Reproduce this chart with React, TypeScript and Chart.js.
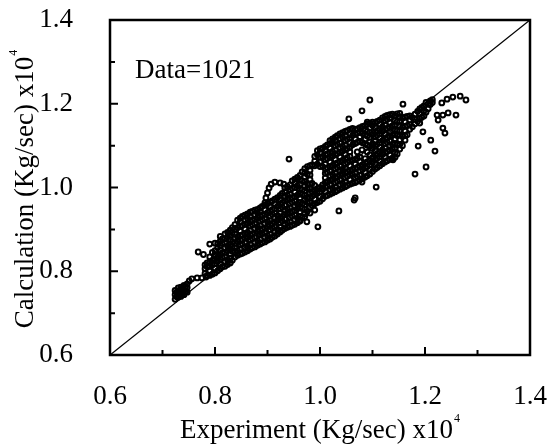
import { useEffect, useRef } from 'react';
import { Chart, registerables } from 'chart.js';

Chart.register(...registerables);

const axisMin = 0.6;
const axisMax = 1.4;
const tickStep = 0.1;
const xTitle = 'Experiment (Kg/sec) x10';
const yTitle = 'Calculation (Kg/sec) x10';
const titleExponent = '4';
const dataLabel = 'Data=1021';
const diagonal: [number, number][] = [[0.6, 0.6], [1.4, 1.4]];

// [experiment, calculation] pairs
const lowerCluster: [number, number][] = [
  [0.724, 0.733], [0.724, 0.744], [0.724, 0.754],
  [0.727, 0.739], [0.727, 0.750],
  [0.730, 0.738], [0.730, 0.749], [0.730, 0.760],
  [0.733, 0.744], [0.733, 0.755],
  [0.735, 0.740], [0.735, 0.751], [0.735, 0.762],
  [0.738, 0.748], [0.738, 0.759],
  [0.741, 0.744], [0.741, 0.755], [0.741, 0.766],
  [0.744, 0.752], [0.744, 0.763],
  [0.747, 0.750], [0.747, 0.761], [0.747, 0.770],
  [0.751, 0.777],
  [0.756, 0.782], [0.766, 0.784], [0.775, 0.784], [0.783, 0.786],
  [0.768, 0.846], [0.778, 0.840],
  [0.790, 0.865], [0.800, 0.867],
  [0.781, 0.795], [0.781, 0.806], [0.781, 0.815],
  [0.785, 0.790], [0.785, 0.811], [0.785, 0.820],
  [0.790, 0.790], [0.790, 0.801], [0.790, 0.812], [0.790, 0.823], [0.790, 0.834],
  [0.795, 0.793], [0.795, 0.815], [0.795, 0.826], [0.795, 0.845],
  [0.800, 0.796], [0.800, 0.807], [0.800, 0.818], [0.800, 0.829], [0.800, 0.840], [0.800, 0.849],
  [0.805, 0.801], [0.805, 0.823], [0.805, 0.834], [0.805, 0.856], [0.805, 0.866],
];

const midBand: [number, number][] = [
  [0.810, 0.806], [0.810, 0.817], [0.810, 0.828], [0.810, 0.839], [0.810, 0.850], [0.810, 0.861], [0.810, 0.872], [0.810, 0.883],
  [0.814, 0.811], [0.814, 0.833], [0.814, 0.844], [0.814, 0.866], [0.814, 0.877],
  [0.819, 0.812], [0.819, 0.823], [0.819, 0.834], [0.819, 0.845], [0.819, 0.856], [0.819, 0.867], [0.819, 0.878], [0.819, 0.889],
  [0.824, 0.816], [0.824, 0.827], [0.824, 0.849], [0.824, 0.860], [0.824, 0.882], [0.824, 0.893],
  [0.829, 0.820], [0.829, 0.831], [0.829, 0.842], [0.829, 0.853], [0.829, 0.864], [0.829, 0.875], [0.829, 0.886], [0.829, 0.898],
  [0.833, 0.826], [0.833, 0.848], [0.833, 0.859], [0.833, 0.870], [0.833, 0.892], [0.833, 0.904],
  [0.838, 0.834], [0.838, 0.845], [0.838, 0.856], [0.838, 0.867], [0.838, 0.878], [0.838, 0.889], [0.838, 0.900], [0.838, 0.911],
  [0.843, 0.838], [0.843, 0.849], [0.843, 0.871], [0.843, 0.882], [0.843, 0.904], [0.843, 0.922],
  [0.848, 0.841], [0.848, 0.852], [0.848, 0.863], [0.848, 0.874], [0.848, 0.885], [0.848, 0.896], [0.848, 0.907], [0.848, 0.918], [0.848, 0.927],
  [0.852, 0.843], [0.852, 0.865], [0.852, 0.876], [0.852, 0.887], [0.852, 0.909], [0.852, 0.931],
  [0.857, 0.846], [0.857, 0.857], [0.857, 0.868], [0.857, 0.879], [0.857, 0.890], [0.857, 0.901], [0.857, 0.912], [0.857, 0.923], [0.857, 0.934],
  [0.862, 0.849], [0.862, 0.860], [0.862, 0.882], [0.862, 0.893], [0.862, 0.915], [0.862, 0.926], [0.862, 0.937],
  [0.867, 0.853], [0.867, 0.864], [0.867, 0.875], [0.867, 0.886], [0.867, 0.897], [0.867, 0.908], [0.867, 0.919], [0.867, 0.930], [0.867, 0.941],
  [0.871, 0.856], [0.871, 0.878], [0.871, 0.889], [0.871, 0.911], [0.871, 0.922], [0.871, 0.943],
  [0.876, 0.858], [0.876, 0.869], [0.876, 0.880], [0.876, 0.891], [0.876, 0.902], [0.876, 0.913], [0.876, 0.924], [0.876, 0.935], [0.876, 0.946],
  [0.881, 0.862], [0.881, 0.873], [0.881, 0.895], [0.881, 0.906], [0.881, 0.928], [0.881, 0.939], [0.881, 0.948],
  [0.886, 0.865], [0.886, 0.876], [0.886, 0.887], [0.886, 0.898], [0.886, 0.909], [0.886, 0.920], [0.886, 0.931], [0.886, 0.942], [0.886, 0.951],
  [0.890, 0.868], [0.890, 0.890], [0.890, 0.901], [0.890, 0.923], [0.890, 0.934], [0.890, 0.955],
  [0.895, 0.870], [0.895, 0.881], [0.895, 0.892], [0.895, 0.903], [0.895, 0.914], [0.895, 0.925], [0.895, 0.936], [0.895, 0.947], [0.895, 0.958],
  [0.900, 0.874], [0.900, 0.885], [0.900, 0.907], [0.900, 0.918], [0.900, 0.940], [0.900, 0.961],
  [0.905, 0.877], [0.905, 0.888], [0.905, 0.899], [0.905, 0.910], [0.905, 0.921], [0.905, 0.932], [0.905, 0.943], [0.905, 0.954], [0.905, 0.965],
  [0.909, 0.881], [0.909, 0.903], [0.909, 0.914], [0.909, 0.936], [0.909, 0.947], [0.909, 0.968],
  [0.914, 0.884], [0.914, 0.895], [0.914, 0.906], [0.914, 0.917], [0.914, 0.928], [0.914, 0.939], [0.914, 0.950], [0.914, 0.961], [0.914, 0.972],
  [0.919, 0.889], [0.919, 0.900], [0.919, 0.922], [0.919, 0.933], [0.919, 0.955], [0.919, 0.976],
  [0.924, 0.894], [0.924, 0.905], [0.924, 0.916], [0.924, 0.927], [0.924, 0.938], [0.924, 0.949], [0.924, 0.960], [0.924, 0.971], [0.924, 0.981],
  [0.928, 0.898], [0.928, 0.920], [0.928, 0.931], [0.928, 0.953], [0.928, 0.964], [0.928, 0.986],
  [0.933, 0.902], [0.933, 0.913], [0.933, 0.924], [0.933, 0.935], [0.933, 0.946], [0.933, 0.957], [0.933, 0.968], [0.933, 0.979], [0.933, 0.990], [0.933, 0.999],
  [0.938, 0.905], [0.938, 0.916], [0.938, 0.938], [0.938, 0.949], [0.938, 0.971], [0.938, 0.982], [0.938, 1.002],
  [0.943, 0.907], [0.943, 0.918], [0.943, 0.929], [0.943, 0.940], [0.943, 0.951], [0.943, 0.962], [0.943, 0.973], [0.943, 0.984], [0.943, 0.995], [0.943, 1.006],
  [0.947, 0.910], [0.947, 0.932], [0.947, 0.943], [0.947, 0.965], [0.947, 0.976], [0.947, 0.998], [0.947, 1.016],
  [0.952, 0.912], [0.952, 0.923], [0.952, 0.934], [0.952, 0.945], [0.952, 0.956], [0.952, 0.967], [0.952, 0.978], [0.952, 0.989], [0.952, 1.000], [0.952, 1.011], [0.952, 1.020],
  [0.957, 0.916], [0.957, 0.927], [0.957, 0.949], [0.957, 0.960], [0.957, 0.982], [0.957, 1.004], [0.957, 1.024],
  [0.962, 0.920], [0.962, 0.931], [0.962, 0.942], [0.962, 0.953], [0.962, 0.964], [0.962, 0.975], [0.962, 0.986], [0.962, 0.997], [0.962, 1.008], [0.962, 1.019], [0.962, 1.029],
  [0.966, 0.928], [0.966, 0.950], [0.966, 0.961], [0.966, 0.983], [0.966, 0.994], [0.966, 1.016], [0.966, 1.037],
];

const upperBand: [number, number][] = [
  [0.971, 0.937], [0.971, 0.948], [0.971, 0.959], [0.971, 0.970], [0.971, 0.981], [0.971, 0.992], [0.971, 1.003], [0.971, 1.014], [0.971, 1.025], [0.971, 1.036], [0.971, 1.045],
  [0.976, 0.943], [0.976, 0.965], [0.976, 0.976], [0.976, 0.998], [0.976, 1.009], [0.976, 1.031], [0.976, 1.050],
  [0.981, 0.953], [0.981, 0.964], [0.981, 0.975], [0.981, 0.986], [0.981, 0.997], [0.981, 1.008], [0.981, 1.019], [0.981, 1.030], [0.981, 1.041], [0.981, 1.052],
  [0.985, 0.957], [0.985, 0.979], [0.985, 0.990], [0.985, 1.010], [0.985, 1.054],
  [0.990, 0.961], [0.990, 0.972], [0.990, 0.983], [0.990, 0.994], [0.990, 1.005], [0.990, 1.052], [0.990, 1.063], [0.990, 1.074],
  [0.995, 0.964], [0.995, 0.986], [0.995, 0.997], [0.995, 1.056], [0.995, 1.078], [0.995, 1.088],
  [1.000, 0.967], [1.000, 0.978], [1.000, 0.989], [1.000, 1.000], [1.000, 1.050], [1.000, 1.061], [1.000, 1.072], [1.000, 1.083], [1.000, 1.092],
  [1.005, 0.973], [1.005, 0.995], [1.005, 1.006], [1.005, 1.050], [1.005, 1.072], [1.005, 1.094],
  [1.010, 0.979], [1.010, 0.990], [1.010, 1.001], [1.010, 1.012], [1.010, 1.023], [1.010, 1.034], [1.010, 1.045], [1.010, 1.056], [1.010, 1.067], [1.010, 1.078], [1.010, 1.089], [1.010, 1.098],
  [1.014, 0.981], [1.014, 1.003], [1.014, 1.014], [1.014, 1.036], [1.014, 1.047], [1.014, 1.069], [1.014, 1.080], [1.014, 1.102],
  [1.019, 0.984], [1.019, 0.995], [1.019, 1.006], [1.019, 1.017], [1.019, 1.028], [1.019, 1.039], [1.019, 1.050], [1.019, 1.061], [1.019, 1.072], [1.019, 1.083], [1.019, 1.094], [1.019, 1.105], [1.019, 1.112],
  [1.024, 0.987], [1.024, 0.998], [1.024, 1.020], [1.024, 1.031], [1.024, 1.053], [1.024, 1.075], [1.024, 1.086], [1.024, 1.108], [1.024, 1.116],
  [1.029, 0.990], [1.029, 1.001], [1.029, 1.012], [1.029, 1.023], [1.029, 1.034], [1.029, 1.045], [1.029, 1.056], [1.029, 1.067], [1.029, 1.078], [1.029, 1.089], [1.029, 1.100], [1.029, 1.111], [1.029, 1.120],
  [1.033, 0.993], [1.033, 1.015], [1.033, 1.026], [1.033, 1.048], [1.033, 1.059], [1.033, 1.081], [1.033, 1.103], [1.033, 1.124],
  [1.038, 0.996], [1.038, 1.007], [1.038, 1.018], [1.038, 1.029], [1.038, 1.040], [1.038, 1.051], [1.038, 1.062], [1.038, 1.073], [1.038, 1.084], [1.038, 1.095], [1.038, 1.106], [1.038, 1.117], [1.038, 1.128],
  [1.043, 0.999], [1.043, 1.010], [1.043, 1.032], [1.043, 1.043], [1.043, 1.065], [1.043, 1.087], [1.043, 1.098], [1.043, 1.120], [1.043, 1.131],
  [1.048, 1.002], [1.048, 1.013], [1.048, 1.024], [1.048, 1.035], [1.048, 1.046], [1.048, 1.057], [1.048, 1.068], [1.048, 1.079], [1.048, 1.090], [1.048, 1.101], [1.048, 1.112], [1.048, 1.123], [1.048, 1.134],
  [1.052, 1.005], [1.052, 1.027], [1.052, 1.038], [1.052, 1.060], [1.052, 1.071], [1.052, 1.093], [1.052, 1.115], [1.052, 1.136],
  [1.057, 1.008], [1.057, 1.019], [1.057, 1.030], [1.057, 1.041], [1.057, 1.052], [1.057, 1.063], [1.057, 1.074], [1.057, 1.085], [1.057, 1.096], [1.057, 1.107], [1.057, 1.118], [1.057, 1.129], [1.057, 1.139],
  [1.062, 1.010], [1.062, 1.032], [1.062, 1.043], [1.062, 1.065], [1.062, 1.102], [1.062, 1.124], [1.062, 1.141],
  [1.067, 1.012], [1.067, 1.023], [1.067, 1.034], [1.067, 1.045], [1.067, 1.056], [1.067, 1.067], [1.067, 1.105], [1.067, 1.116], [1.067, 1.127], [1.067, 1.138],
  [1.071, 1.015], [1.071, 1.026], [1.071, 1.048], [1.071, 1.070], [1.071, 1.108], [1.071, 1.130], [1.071, 1.140],
  [1.076, 1.018], [1.076, 1.029], [1.076, 1.040], [1.076, 1.051], [1.076, 1.062], [1.076, 1.073], [1.076, 1.110], [1.076, 1.121], [1.076, 1.132], [1.076, 1.143],
  [1.081, 1.021], [1.081, 1.043], [1.081, 1.054], [1.081, 1.107], [1.081, 1.129], [1.081, 1.146],
  [1.086, 1.025], [1.086, 1.036], [1.086, 1.047], [1.086, 1.058], [1.086, 1.069], [1.086, 1.104], [1.086, 1.115], [1.086, 1.126], [1.086, 1.137], [1.086, 1.148],
  [1.090, 1.028], [1.090, 1.050], [1.090, 1.061], [1.090, 1.101], [1.090, 1.123], [1.090, 1.134], [1.090, 1.151],
  [1.095, 1.032], [1.095, 1.043], [1.095, 1.054], [1.095, 1.065], [1.095, 1.098], [1.095, 1.109], [1.095, 1.120], [1.095, 1.131], [1.095, 1.142], [1.095, 1.153],
  [1.100, 1.038], [1.100, 1.060], [1.100, 1.071], [1.100, 1.093], [1.100, 1.104], [1.100, 1.126], [1.100, 1.148], [1.100, 1.156],
  [1.105, 1.044], [1.105, 1.055], [1.105, 1.066], [1.105, 1.077], [1.105, 1.088], [1.105, 1.099], [1.105, 1.110], [1.105, 1.121], [1.105, 1.132], [1.105, 1.143], [1.105, 1.154],
  [1.109, 1.048], [1.109, 1.070], [1.109, 1.081], [1.109, 1.103], [1.109, 1.125], [1.109, 1.136], [1.109, 1.158],
  [1.114, 1.052], [1.114, 1.063], [1.114, 1.074], [1.114, 1.085], [1.114, 1.096], [1.114, 1.107], [1.114, 1.118], [1.114, 1.129], [1.114, 1.140], [1.114, 1.151], [1.114, 1.161],
  [1.119, 1.057], [1.119, 1.079], [1.119, 1.090], [1.119, 1.112], [1.119, 1.134], [1.119, 1.145], [1.119, 1.166],
  [1.124, 1.061], [1.124, 1.072], [1.124, 1.083], [1.124, 1.094], [1.124, 1.105], [1.124, 1.116], [1.124, 1.127], [1.124, 1.138], [1.124, 1.149], [1.124, 1.160], [1.124, 1.170],
  [1.128, 1.064], [1.128, 1.086], [1.128, 1.108], [1.128, 1.119], [1.128, 1.141], [1.128, 1.163], [1.128, 1.172],
  [1.133, 1.067], [1.133, 1.078], [1.133, 1.089], [1.133, 1.100], [1.133, 1.111], [1.133, 1.122], [1.133, 1.133], [1.133, 1.144], [1.133, 1.155], [1.133, 1.166], [1.133, 1.174],
  [1.138, 1.070], [1.138, 1.092], [1.138, 1.103], [1.138, 1.125], [1.138, 1.147], [1.138, 1.175],
  [1.143, 1.072], [1.143, 1.083], [1.143, 1.094], [1.143, 1.105], [1.143, 1.116], [1.143, 1.127], [1.143, 1.138], [1.143, 1.149], [1.143, 1.160], [1.143, 1.171],
  [1.147, 1.080], [1.147, 1.102], [1.147, 1.124], [1.147, 1.135], [1.147, 1.157], [1.147, 1.176],
  [1.152, 1.092], [1.152, 1.103], [1.152, 1.114], [1.152, 1.125], [1.152, 1.136], [1.152, 1.147], [1.152, 1.158], [1.152, 1.169], [1.152, 1.177],
  [1.157, 1.100], [1.157, 1.122], [1.157, 1.144], [1.157, 1.166],
  [1.162, 1.113], [1.162, 1.124], [1.162, 1.135], [1.162, 1.146], [1.162, 1.157], [1.162, 1.168],
  [1.166, 1.126], [1.166, 1.148], [1.166, 1.170],
  [1.171, 1.139], [1.171, 1.150], [1.171, 1.161], [1.171, 1.171],
  [1.176, 1.145], [1.176, 1.167],
  [1.181, 1.152], [1.181, 1.163], [1.181, 1.175],
  [1.186, 1.158], [1.186, 1.182],
  [1.190, 1.164], [1.190, 1.176], [1.190, 1.188],
  [1.194, 1.168], [1.194, 1.191],
  [1.198, 1.171], [1.198, 1.183], [1.198, 1.195],
  [1.202, 1.180], [1.202, 1.203],
  [1.206, 1.188], [1.206, 1.200],
  [1.210, 1.198], [1.210, 1.207],
  [1.214, 1.203], [1.214, 1.210],
];

const hollowChains: [number, number][] = [
  [0.895, 0.963], [0.897, 0.975], [0.900, 0.987], [0.903, 0.999], [0.907, 1.008], [0.914, 1.013], [0.924, 1.011], [0.931, 1.008],
  [0.962, 0.922], [0.971, 0.930], [0.981, 0.939], [0.990, 0.946], [0.996, 0.906], [0.975, 0.918],
  [1.071, 1.085], [1.080, 1.090], [1.090, 1.085], [1.095, 1.078],
];

const scatteredPoints: [number, number][] = [
  [0.941, 1.068], [1.036, 0.944], [1.055, 1.164], [1.080, 1.183], [1.095, 1.209], [1.158, 1.199], [1.090, 1.156],
  [1.232, 1.202], [1.242, 1.211], [1.253, 1.216], [1.267, 1.218], [1.278, 1.209],
  [1.223, 1.173], [1.234, 1.173], [1.244, 1.178], [1.259, 1.173], [1.225, 1.161],
  [1.234, 1.142], [1.238, 1.130],
  [1.211, 1.113], [1.219, 1.087], [1.187, 1.099],
  [1.202, 1.049], [1.181, 1.032],
  [1.107, 1.001],
  [1.065, 0.970], [1.067, 0.975],
  [1.080, 1.013],
  [1.139, 1.066],
  [1.190, 1.154], [1.196, 1.133],
];

const FONT = '"Liberation Serif", "Times New Roman", serif';

const isMajor = (v: number) => Math.round(v * 10) % 2 === 0;
const tickLabel = (v: number | string) => {
  const n = Math.round(Number(v) * 10);
  return n % 2 === 0 ? (n / 10).toFixed(1) : '';
};

export default function App() {
  const ref = useRef<HTMLCanvasElement>(null);

  useEffect(() => {
    if (!ref.current) return;
    const allPoints = [...lowerCluster, ...midBand, ...upperBand, ...hollowChains, ...scatteredPoints];

    const drawTitle = (ctx: CanvasRenderingContext2D, main: string) => {
      ctx.font = `27px ${FONT}`;
      const w = ctx.measureText(main).width;
      ctx.font = `12px ${FONT}`;
      const ws = ctx.measureText(titleExponent).width;
      const start = -(w + ws + 1) / 2;
      ctx.font = `27px ${FONT}`;
      ctx.fillText(main, start, 0);
      ctx.font = `12px ${FONT}`;
      ctx.fillText(titleExponent, start + w + 1, -16);
    };

    const framePlugin = {
      id: 'frameAndTicks',
      afterDatasetsDraw(chart: any) {
        const { ctx, chartArea: a, scales } = chart;
        ctx.save();
        ctx.strokeStyle = '#000';
        ctx.lineWidth = 2.5;
        ctx.strokeRect(a.left, a.top, a.right - a.left, a.bottom - a.top);
        ctx.lineWidth = 2;
        ctx.beginPath();
        for (const t of scales.x.ticks) {
          const px = scales.x.getPixelForValue(t.value);
          const len = isMajor(t.value) ? 8 : 5;
          ctx.moveTo(px, a.bottom);
          ctx.lineTo(px, a.bottom - len);
        }
        for (const t of scales.y.ticks) {
          const py = scales.y.getPixelForValue(t.value);
          const len = isMajor(t.value) ? 8 : 5;
          ctx.moveTo(a.left, py);
          ctx.lineTo(a.left + len, py);
        }
        ctx.stroke();
        ctx.fillStyle = '#000';
        ctx.textBaseline = 'alphabetic';
        ctx.textAlign = 'left';
        ctx.font = `27px ${FONT}`;
        ctx.fillText(dataLabel, a.left + 25, a.top + 58);

        ctx.save();
        ctx.translate((a.left + a.right) / 2, chart.height - 10);
        drawTitle(ctx, xTitle);
        ctx.restore();

        ctx.save();
        ctx.translate(33, (a.top + a.bottom) / 2 + 1.5);
        ctx.rotate(-Math.PI / 2);
        drawTitle(ctx, yTitle);
        ctx.restore();

        ctx.restore();
      },
    };

    const chart = new Chart(ref.current, {
      type: 'scatter',
      data: {
        datasets: [
          {
            data: diagonal.map(([x, y]) => ({ x, y })),
            showLine: true,
            borderColor: '#000',
            borderWidth: 1.3,
            pointRadius: 0,
            order: 2,
          },
          {
            data: allPoints.map(([x, y]) => ({ x, y })),
            pointRadius: 2.4,
            pointBorderWidth: 2,
            pointBorderColor: '#000',
            pointBackgroundColor: 'rgba(0,0,0,0)',
            order: 1,
          },
        ],
      },
      options: {
        animation: false,
        responsive: false,
        layout: { padding: { top: 20, right: 20, left: 0, bottom: 0 } },
        plugins: { legend: { display: false }, tooltip: { enabled: false } },
        scales: {
          x: {
            type: 'linear',
            min: axisMin,
            max: axisMax,
            grid: { display: false, drawTicks: false },
            border: { display: false },
            ticks: {
              stepSize: tickStep,
              autoSkip: false,
              maxRotation: 0,
              padding: 26,
              color: '#000',
              font: { family: FONT, size: 27 },
              callback: tickLabel,
            },
            afterFit: (s: any) => {
              s.height = 93;
              s.paddingLeft = 0;
              s.paddingRight = 0;
              s.paddingTop = 0;
              s.paddingBottom = 0;
            },
          },
          y: {
            type: 'linear',
            min: axisMin,
            max: axisMax,
            grid: { display: false, drawTicks: false },
            border: { display: false },
            ticks: {
              stepSize: tickStep,
              autoSkip: false,
              padding: 37,
              color: '#000',
              font: { family: FONT, size: 27 },
              callback: tickLabel,
            },
            afterFit: (s: any) => {
              s.width = 110;
              s.paddingLeft = 0;
              s.paddingRight = 0;
              s.paddingTop = 0;
              s.paddingBottom = 0;
            },
          },
        },
      },
      plugins: [framePlugin],
    });
    return () => chart.destroy();
  }, []);

  return (
    <div style={{ position: 'fixed', left: 0, top: 0, width: 550, height: 448, background: '#fff' }}>
      <canvas ref={ref} width={550} height={448} style={{ display: 'block' }} />
    </div>
  );
}
